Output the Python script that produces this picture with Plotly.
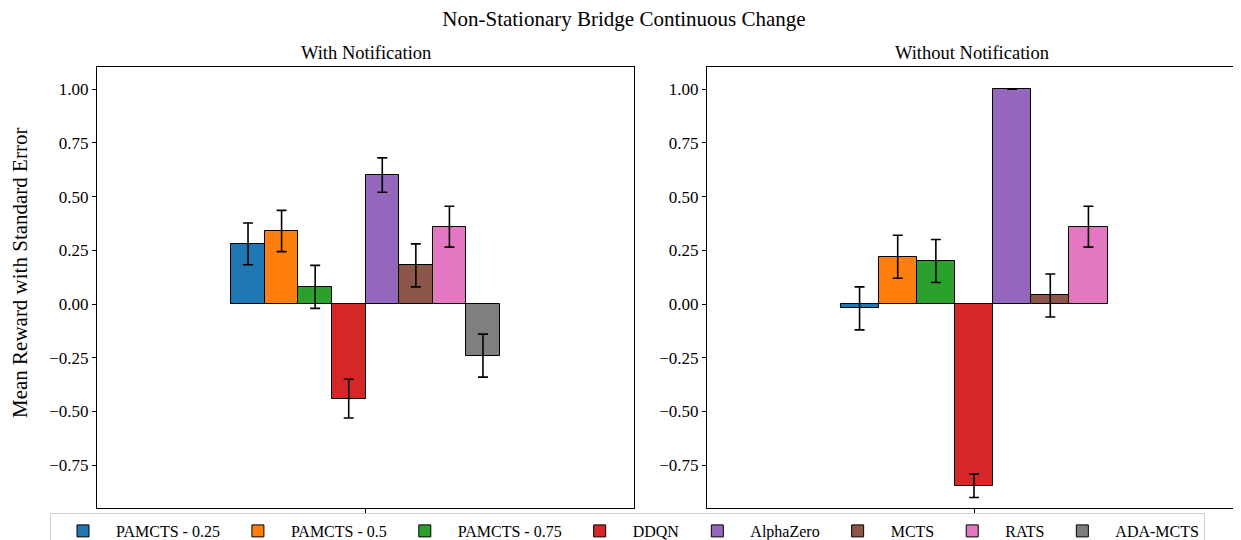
import plotly.graph_objects as go
from plotly.subplots import make_subplots

methods_left = ["PAMCTS - 0.25", "PAMCTS - 0.5", "PAMCTS - 0.75", "DDQN", "AlphaZero", "MCTS", "RATS", "ADA-MCTS"]
colors_left = ["#1f77b4", "#ff7f0e", "#2ca02c", "#d62728", "#9467bd", "#8c564b", "#e377c2", "#7f7f7f"]
with_notif_mean = [0.28, 0.34, 0.08, -0.44, 0.60, 0.18, 0.36, -0.24]
with_notif_err = [0.097, 0.096, 0.10, 0.09, 0.08, 0.10, 0.095, 0.10]

methods_right = ["PAMCTS - 0.25", "PAMCTS - 0.5", "PAMCTS - 0.75", "DDQN", "AlphaZero", "MCTS", "RATS"]
without_notif_mean = [-0.02, 0.22, 0.20, -0.845, 1.00, 0.04, 0.36]
without_notif_err = [0.10, 0.10, 0.10, 0.055, 0.0, 0.10, 0.095]

y_ticks = [-0.75, -0.5, -0.25, 0.0, 0.25, 0.5, 0.75, 1.0]

FONT = "Liberation Serif"

fig = make_subplots(rows=1, cols=2, subplot_titles=["With Notification", "Without Notification"],
                    horizontal_spacing=0.06)

nL = len(methods_left)
wL = 0.8 / nL
for i, (m, c, v, e) in enumerate(zip(methods_left, colors_left, with_notif_mean, with_notif_err)):
    fig.add_trace(go.Bar(
        x=[(i - (nL - 1) / 2) * wL], y=[v], width=wL, name=m,
        marker=dict(color=c, line=dict(color="black", width=1)),
        error_y=dict(type="data", array=[e], color="black", thickness=1.6, width=5),
        legendgroup=m, showlegend=True), row=1, col=1)

nR = len(methods_right)
wR = 0.8 / nR
for i, (m, v, e) in enumerate(zip(methods_right, without_notif_mean, without_notif_err)):
    c = colors_left[methods_left.index(m)]
    fig.add_trace(go.Bar(
        x=[(i - (nR - 1) / 2) * wR], y=[v], width=wR, name=m,
        marker=dict(color=c, line=dict(color="black", width=1)),
        error_y=dict(type="data", array=[e], color="black", thickness=1.6, width=5),
        legendgroup=m, showlegend=False), row=1, col=2)

# page body adds an 8px offset; figure coordinates = reference - 8
W, H = 1233, 560
L, R, T = 89, 0, 59
plot_bottom = 500
B = H - plot_bottom
pw = W - L - R
ph = plot_bottom - T

fig.update_layout(
    width=W, height=H, autosize=False,
    margin=dict(l=L, r=R, t=T, b=B),
    paper_bgcolor="white", plot_bgcolor="white",
    font=dict(family=FONT, size=17, color="black"),
    barmode="overlay", bargap=0,
    title=dict(text="Non-Stationary Bridge Continuous Change", x=(616) / W, xanchor="center",
               y=1 - 11 / H, yanchor="middle", font=dict(size=21, family=FONT)),
    legend=dict(orientation="h", x=(42 - L) / pw, xanchor="left", y=-5 / ph, yanchor="top",
                bordercolor="#d0d0d0", borderwidth=1, bgcolor="white", itemwidth=56,
                font=dict(size=16, family=FONT), tracegroupgap=0),
)

dom1 = [0, (626 - L) / pw]
dom2 = [(699 - L) / pw, 1]
for col, dom in [(1, dom1), (2, dom2)]:
    fig.update_xaxes(domain=dom, range=[-0.8, 0.8], tickvals=[0], ticktext=[""], ticks="outside",
                     ticklen=4, tickcolor="black", showline=True, linecolor="black", linewidth=1,
                     mirror=True, showgrid=False, zeroline=False, row=1, col=col)
    fig.update_yaxes(range=[-0.949, 1.103], tickvals=y_ticks, tickformat=".2f", ticks="outside",
                     ticklen=4, tickcolor="black", showline=True, linecolor="black", linewidth=1,
                     mirror=(col == 1), showgrid=False, zeroline=False,
                     tickfont=dict(size=17, family=FONT), row=1, col=col)

for ann in fig.layout.annotations:
    ann.font = dict(size=18.5, family=FONT, color="black")
    ann.yshift = 2

fig.add_annotation(text="Mean Reward with Standard Error", textangle=-90,
                   xref="paper", yref="paper", x=(12 - L) / pw, y=1 - (265 - T) / ph,
                   xanchor="center", yanchor="middle", showarrow=False,
                   font=dict(size=21, family=FONT, color="black"))

fig.write_html("out.html")
